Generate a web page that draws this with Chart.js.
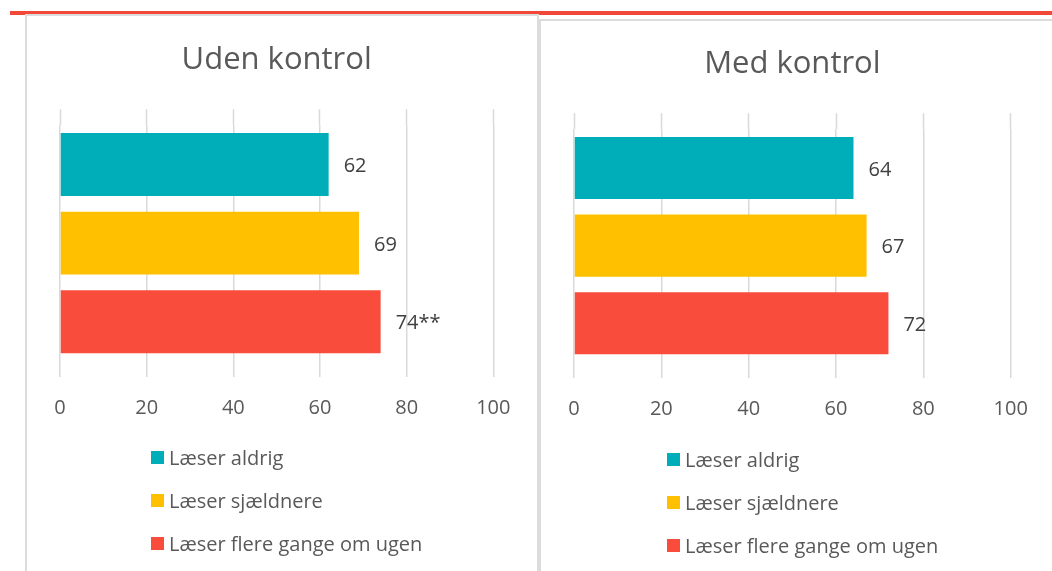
<!DOCTYPE html>
<html>
<head>
<meta charset="utf-8">
<title>Uden kontrol / Med kontrol</title>
<script src="https://cdn.jsdelivr.net/npm/chart.js@4.4.1/dist/chart.umd.min.js"></script>
<style>
    body {
        margin: 0;
        width: 1052px;
        height: 571px;
        overflow: hidden;
        position: relative;
        background: #fff;
        font-family: 'Open Sans', sans-serif;
    }
    .topline { position: absolute; left: 10px; top: 11px; width: 1042px; height: 4px; background: #f2483a; }
    .panel { position: absolute; border: 2px solid #dcdcdc; box-sizing: border-box; }
    #panel-left { left: 25px; top: 14px; width: 514px; height: 620px; }
    #panel-right { left: 539px; top: 19px; width: 560px; height: 620px; }
    .chart-box { position: absolute; }
    #box-left { left: 26px; top: 17px; width: 510px; height: 422px; }
    #box-right { left: 541px; top: 21px; width: 511px; height: 419px; }
    .legend { position: absolute; font-size: 20px; color: #595959; white-space: nowrap; }
    #legend-left { left: 151px; top: 436px; }
    #legend-right { left: 667px; top: 438px; }
    .legend .item { height: 43px; display: flex; align-items: center; }
    .legend .swatch { width: 13px; height: 13px; margin-right: 5px; }
</style>
</head>
<body>
<div class="topline"></div>
<div class="panel" id="panel-left"></div>
<div class="panel" id="panel-right"></div>
<div class="chart-box" id="box-left"><canvas id="chart-left"></canvas></div>
<div class="chart-box" id="box-right"><canvas id="chart-right"></canvas></div>
<div class="legend" id="legend-left"></div>
<div class="legend" id="legend-right"></div>

<script>
// data
const categories = ['Læser aldrig', 'Læser sjældnere', 'Læser flere gange om ugen'];
const barColors = ['#00aeb9', '#ffc000', '#f94c3c'];
const xTicks = [0, 20, 40, 60, 80, 100];

const udenValues = [62, 69, 74];
const udenLabels = ['62', '69', '74**'];
const medValues = [64, 67, 72];
const medLabels = ['64', '67', '72'];

const textColor = '#595959';
const gridColor = '#d9d9d9';

// value labels right of each bar
const barValueLabels = {
    id: 'barValueLabels',
    afterDatasetsDraw(chart, args, opts) {
        const ctx = chart.ctx;
        const meta = chart.getDatasetMeta(0);
        ctx.save();
        ctx.font = '20px "Open Sans"';
        ctx.fillStyle = '#404040';
        ctx.textAlign = 'left';
        ctx.textBaseline = 'middle';
        meta.data.forEach((bar, i) => {
            ctx.fillText(opts.labels[i], bar.x + 15, bar.y + 2);
        });
        ctx.restore();
    }
};

function setTicks(scale) {
    scale.ticks = xTicks.map(v => ({ value: v }));
}

function createBarChart(canvasId, title, values, labels, padLeft, padRight) {
    const ctx = document.getElementById(canvasId).getContext('2d');
    return new Chart(ctx, {
        type: 'bar',
        data: {
            labels: categories,
            datasets: [{
                data: values,
                backgroundColor: barColors,
                categoryPercentage: 1,
                barPercentage: 0.8
            }]
        },
        options: {
            indexAxis: 'y',
            responsive: true,
            maintainAspectRatio: false,
            animation: false,
            layout: { padding: { left: padLeft, right: padRight, top: 0, bottom: 0 } },
            scales: {
                x: {
                    min: 0,
                    max: 100,
                    afterBuildTicks: setTicks,
                    grid: { color: gridColor, lineWidth: 1.5, drawTicks: true, tickLength: 16, tickColor: gridColor, tickWidth: 1.5 },
                    border: { display: false },
                    ticks: { color: textColor, font: { family: 'Open Sans', size: 20 }, padding: 19 }
                },
                xTop: {
                    type: 'linear',
                    position: 'top',
                    min: 0,
                    max: 100,
                    afterBuildTicks: setTicks,
                    grid: { drawOnChartArea: false, drawTicks: true, tickLength: 16, tickColor: gridColor, tickWidth: 1.5 },
                    border: { display: false },
                    ticks: { display: false }
                },
                y: { display: false }
            },
            plugins: {
                legend: { display: false },
                tooltip: { enabled: false },
                title: {
                    display: true,
                    text: title,
                    color: textColor,
                    font: { family: 'Open Sans', size: 31, weight: 'normal' },
                    padding: { top: 25, bottom: 30 }
                },
                barValueLabels: { labels: labels }
            }
        },
        plugins: [barValueLabels]
    });
}

function buildLegend(id) {
    const box = document.getElementById(id);
    categories.forEach((name, i) => {
        const item = document.createElement('div');
        item.className = 'item';
        const sw = document.createElement('span');
        sw.className = 'swatch';
        sw.style.background = barColors[i];
        const txt = document.createElement('span');
        txt.textContent = name;
        item.appendChild(sw);
        item.appendChild(txt);
        box.appendChild(item);
    });
}

createBarChart('chart-left', 'Uden kontrol', udenValues, udenLabels, 34, 42.7);
createBarChart('chart-right', 'Med kontrol', medValues, medLabels, 33, 41.3);
buildLegend('legend-left');
buildLegend('legend-right');
</script>
</body>
</html>
